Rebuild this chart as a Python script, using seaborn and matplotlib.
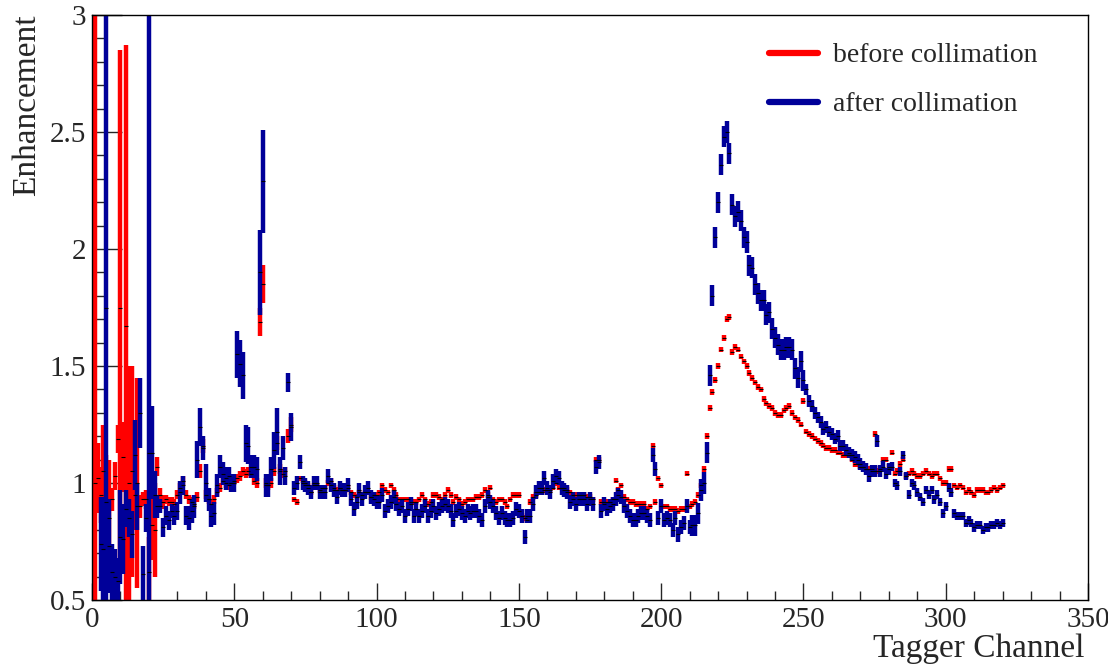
import numpy as np
import pandas as pd
import matplotlib
matplotlib.use("Agg")
import matplotlib.pyplot as plt
from matplotlib.ticker import MultipleLocator
from matplotlib.lines import Line2D
import seaborn as sns

# ---------------- data ----------------
channels = list(range(1, 321))

before_vals = [
    1.00, 1.02, 0.95, 1.05, 0.92, 0.85, 0.93, 1.03, 1.19, 1.75,
    1.11, 1.67, 1.00, 1.05, 0.95, 1.00, 0.90, 0.93, 0.93, 0.62,
    0.82, 0.80, 1.07, 0.95, 0.92, 0.93, 0.92, 0.92, 0.91, 0.95,
    0.98, 1.01, 0.95, 0.93, 0.92, 0.91, 0.94, 1.05, 1.16, 0.95,
    0.93, 0.91, 0.93, 0.96, 0.98, 1.01, 1.00, 0.99, 1.00, 1.01,
    1.02, 1.03, 1.05, 1.04, 1.05, 1.04, 1.01, 1.00, 1.69, 1.85,
    1.00, 0.99, 1.00, 1.05, 1.17, 1.06, 1.04, 1.05, 1.20, 1.25,
    0.93, 0.92, 1.02, 1.01, 1.00, 0.99, 0.96, 0.99, 0.99, 0.97,
    0.98, 0.98, 1.00, 1.01, 0.98, 0.97, 0.98, 0.97, 0.97, 0.98,
    0.96, 0.95, 0.94, 0.96, 0.95, 0.96, 0.96, 0.94, 0.95, 0.95,
    0.96, 0.99, 0.97, 0.96, 0.99, 0.97, 0.95, 0.93, 0.93, 0.93,
    0.93, 0.92, 0.92, 0.92, 0.93, 0.95, 0.93, 0.91, 0.92, 0.95,
    0.95, 0.94, 0.93, 0.95, 0.97, 0.95, 0.92, 0.94, 0.93, 0.91,
    0.92, 0.93, 0.93, 0.93, 0.94, 0.94, 0.95, 0.97, 0.95, 0.98,
    0.93, 0.92, 0.93, 0.93, 0.92, 0.90, 0.93, 0.95, 0.95, 0.95,
    0.86, 0.85, 0.84, 0.92, 0.94, 0.95, 0.96, 0.96, 0.97, 0.97,
    0.97, 0.98, 1.00, 0.98, 0.98, 0.98, 0.97, 0.96, 0.95, 0.95,
    0.95, 0.95, 0.95, 0.94, 0.94, 0.93, 1.10, 1.10, 0.92, 0.92,
    0.92, 0.92, 0.93, 1.01, 0.97, 0.99, 0.94, 0.93, 0.92, 0.92,
    0.91, 0.91, 0.91, 0.91, 0.89, 0.90, 1.16, 0.92, 1.02, 0.99,
    0.90, 0.90, 0.89, 0.89, 0.89, 0.88, 0.89, 0.89, 1.04, 0.90,
    0.91, 0.92, 0.95, 0.99, 1.06, 1.20, 1.32, 1.39, 1.44, 1.50,
    1.57, 1.62, 1.70, 1.71, 1.56, 1.58, 1.57, 1.54, 1.52, 1.50,
    1.47, 1.45, 1.43, 1.41, 1.40, 1.36, 1.34, 1.33, 1.32, 1.30,
    1.29, 1.29, 1.31, 1.32, 1.33, 1.30, 1.28, 1.27, 1.25, 1.35,
    1.22, 1.21, 1.20, 1.19, 1.18, 1.17, 1.16, 1.15, 1.15, 1.14,
    1.14, 1.13, 1.13, 1.12, 1.12, 1.12, 1.10, 1.08, 1.08, 1.07,
    1.07, 1.06, 1.06, 1.06, 1.21, 1.05, 1.06, 1.10, 1.10, 1.07,
    1.13, 1.04, 1.05, 1.08, 1.10, 1.03, 1.04, 1.05, 1.04, 1.03,
    1.03, 1.04, 1.05, 1.04, 1.03, 1.04, 1.04, 1.02, 1.00, 1.00,
    1.06, 1.06, 0.99, 0.98, 0.99, 0.98, 0.96, 0.97, 0.96, 0.95,
    0.97, 0.97, 0.97, 0.96, 0.96, 0.97, 0.98, 0.97, 0.98, 0.99,
]

before_err = [
    2.00, 0.15, 0.12, 0.20, 0.20, 0.25, 0.05, 0.06, 0.06, 1.10,
    0.15, 1.20, 0.50, 0.45, 0.15, 0.45, 0.05, 0.03, 0.04, 0.15,
    0.15, 0.20, 0.04, 0.03, 0.03, 0.02, 0.02, 0.02, 0.02, 0.02,
    0.02, 0.02, 0.02, 0.02, 0.02, 0.02, 0.02, 0.03, 0.03, 0.02,
    0.02, 0.02, 0.02, 0.02, 0.02, 0.02, 0.02, 0.02, 0.02, 0.02,
    0.02, 0.02, 0.02, 0.02, 0.02, 0.02, 0.02, 0.02, 0.06, 0.08,
    0.02, 0.02, 0.02, 0.02, 0.03, 0.02, 0.02, 0.02, 0.03, 0.03,
] + [0.012] * 250

after_vals = [
    np.nan, np.nan, 0.74, 0.72, 1.75, 0.73, 0.62, 0.60, 0.58, 0.77,
    0.76, 0.89, 0.85, 0.78, 1.12, 0.90, 1.30, 0.61, 0.85, 1.13,
    1.13, 0.95, 0.90, 0.90, 0.81, 0.86, 0.84, 0.88, 0.86, 0.88,
    0.96, 0.99, 0.86, 0.85, 0.88, 0.90, 1.10, 1.24, 1.15, 1.00,
    0.93, 0.86, 0.87, 0.99, 1.07, 1.04, 1.02, 1.03, 1.00, 1.00,
    1.55, 1.51, 1.46, 1.17, 1.16, 1.07, 1.07, 1.06, 1.90, 2.29,
    0.99, 0.99, 1.06, 1.14, 1.22, 1.05, 1.15, 1.03, 1.43, 1.24,
    0.98, 1.00, 1.09, 1.00, 0.99, 0.98, 0.96, 1.00, 1.00, 0.96,
    0.96, 0.96, 1.03, 0.99, 0.97, 0.94, 0.98, 0.97, 0.97, 0.99,
    0.93, 0.89, 0.92, 0.97, 0.93, 0.96, 0.98, 0.94, 0.93, 0.92,
    0.92, 0.95, 0.88, 0.90, 0.92, 0.94, 0.91, 0.89, 0.90, 0.86,
    0.89, 0.91, 0.86, 0.89, 0.86, 0.88, 0.90, 0.86, 0.88, 0.90,
    0.87, 0.89, 0.90, 0.91, 0.90, 0.88, 0.84, 0.88, 0.89, 0.87,
    0.86, 0.88, 0.87, 0.88, 0.88, 0.86, 0.84, 0.90, 0.94, 0.92,
    0.90, 0.87, 0.85, 0.87, 0.85, 0.84, 0.84, 0.85, 0.89, 0.88,
    0.86, 0.77, 0.86, 0.86, 0.91, 0.96, 0.98, 0.98, 1.02, 0.98,
    0.96, 1.01, 1.03, 1.02, 0.98, 0.97, 0.96, 0.92, 0.93, 0.91,
    0.93, 0.93, 0.93, 0.91, 0.93, 0.91, 1.07, 1.09, 0.88, 0.91,
    0.89, 0.90, 0.91, 0.93, 0.95, 0.94, 0.90, 0.88, 0.86, 0.84,
    0.84, 0.86, 0.87, 0.87, 0.86, 0.84, 1.12, 1.06, 0.85, 0.90,
    0.84, 0.85, 0.84, 0.80, 0.85, 0.78, 0.81, 0.83, 0.90, 0.81,
    0.82, 0.82, 0.87, 0.97, 1.00, 1.13, 1.46, 1.80, 2.05, 2.20,
    2.36, 2.48, 2.50, 2.41, 2.19, 2.14, 2.16, 2.12, 2.05, 2.03,
    1.93, 1.92, 1.85, 1.81, 1.78, 1.78, 1.72, 1.73, 1.66, 1.62,
    1.59, 1.57, 1.57, 1.58, 1.58, 1.57, 1.49, 1.45, 1.52, 1.44,
    1.40, 1.35, 1.33, 1.30, 1.28, 1.26, 1.23, 1.24, 1.22, 1.21,
    1.19, 1.20, 1.16, 1.16, 1.14, 1.13, 1.12, 1.11, 1.10, 1.08,
    1.07, 1.06, 1.03, 1.05, 1.05, 1.18, 1.05, 1.07, 1.04, 1.06,
    1.07, 1.00, 0.99, 1.05, 1.12, 1.03, 0.95, 1.00, 0.99, 0.96,
    0.94, 0.92, 0.97, 0.95, 0.97, 0.93, 0.95, 0.92, 0.87, 0.90,
    0.98, 0.96, 0.87, 0.86, 0.86, 0.86, 0.83, 0.84, 0.83, 0.81,
    0.82, 0.82, 0.80, 0.81, 0.81, 0.82, 0.82, 0.83, 0.82, 0.83,
]

after_err = [
    0.00, 0.00, 0.20, 0.22, 1.25, 0.20, 0.12, 0.12, 0.10, 0.20,
    0.15, 0.08, 0.08, 0.10, 0.15, 0.10, 0.15, 0.12, 0.06, 2.00,
    0.20, 0.10, 0.05, 0.03, 0.04, 0.04, 0.04, 0.03, 0.04, 0.04,
    0.05, 0.04, 0.04, 0.05, 0.05, 0.05, 0.08, 0.08, 0.05, 0.08,
    0.05, 0.05, 0.05, 0.05, 0.05, 0.05, 0.05, 0.04, 0.04, 0.04,
    0.10, 0.10, 0.10, 0.08, 0.08, 0.05, 0.05, 0.05, 0.18, 0.22,
    0.05, 0.05, 0.05, 0.08, 0.10, 0.06, 0.05, 0.04, 0.04, 0.06,
] + [0.03] * 140 + [0.045] * 40 + [0.025] * 30 + [0.018] * 40

legend_labels = ["before collimation", "after collimation"]
series_colors = ["#ff0000", "#000099"]
x_label = "Tagger Channel"
y_label = "Enhancement"

df = pd.DataFrame({
    "channel": channels * 2,
    "value": before_vals + after_vals,
    "err": before_err + after_err,
    "series": [legend_labels[0]] * 320 + [legend_labels[1]] * 320,
})

# ---------------- figure ----------------
sns.set_style("ticks")
plt.rcParams["font.family"] = ["Liberation Serif", "DejaVu Serif"]

fig = plt.figure(figsize=(11.08, 6.68), dpi=100)
ax = fig.add_axes([0.083, 0.1018, 0.899, 0.8757])

for lab, col in zip(legend_labels, series_colors):
    sub = df[df["series"] == lab]
    ax.errorbar(sub["channel"], sub["value"], yerr=sub["err"], fmt="none",
                ecolor=col, elinewidth=3.2, capsize=0, zorder=2)
    sns.scatterplot(data=sub, x="channel", y="value", marker="_", color="black",
                    s=10, linewidth=0.8, ax=ax, zorder=3, legend=False)

ax.set_xlim(0, 350)
ax.set_ylim(0.5, 3)
ax.xaxis.set_major_locator(MultipleLocator(50))
ax.xaxis.set_minor_locator(MultipleLocator(10))
ax.yaxis.set_minor_locator(MultipleLocator(0.1))
ax.set_yticks([0.5, 1, 1.5, 2, 2.5, 3])
ax.set_yticklabels(["0.5", "1", "1.5", "2", "2.5", "3"])
ax.tick_params(axis="x", which="major", direction="in", length=12.5, width=1,
               labelsize=21, top=False, pad=5)
ax.tick_params(axis="x", which="minor", direction="in", length=6.3, width=1, top=False)
ax.tick_params(axis="y", which="major", direction="in", length=21.5, width=1,
               labelsize=21, right=False, pad=4)
ax.tick_params(axis="y", which="minor", direction="in", length=10.8, width=1, right=False)
for s in ax.spines.values():
    s.set_linewidth(1.0)
    s.set_color("black")

ax.set_xlabel("")
ax.set_ylabel("")
fig.text(0.979, 0.016, x_label, ha="right", va="baseline", fontsize=24)
fig.text(0.010, 0.979, y_label, ha="left", va="top", rotation=90, fontsize=24)

leg_handles = [Line2D([0], [0], color=c, lw=4.5) for c in series_colors]
ax.legend(leg_handles, legend_labels, loc="upper left",
          bbox_to_anchor=(0.655, 0.995), frameon=False, fontsize=20,
          handlelength=1.75, handletextpad=0.55, labelspacing=0.85)

fig.savefig("out.png", dpi=100)
